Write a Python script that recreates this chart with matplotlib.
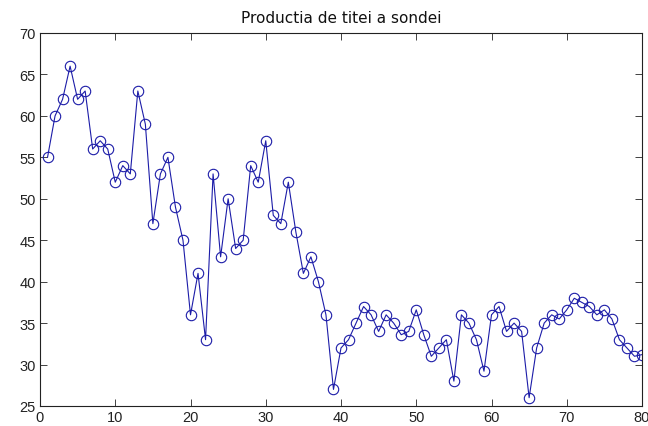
import matplotlib
matplotlib.use("Agg")
import matplotlib.pyplot as plt

# Daily oil production readings for the well
days = list(range(1, 81))
production = [
    55, 60, 62, 66, 62, 63, 56, 57, 56, 52,
    54, 53, 63, 59, 47, 53, 55, 49, 45, 36,
    41, 33, 53, 43, 50, 44, 45, 54, 52, 57,
    48, 47, 52, 46, 41, 43, 40, 36, 27, 32,
    33, 35, 37, 36, 34, 36, 35, 33.6, 34, 36.6,
    33.6, 31, 32, 33, 28, 36, 35, 33, 29.2, 36,
    37, 34, 35, 34, 26, 32, 35, 36, 35.5, 36.6,
    38, 37.5, 37, 36, 36.6, 35.5, 33, 32, 31, 31.2,
]
x_ticks = [0, 10, 20, 30, 40, 50, 60, 70, 80]
y_ticks = [25, 30, 35, 40, 45, 50, 55, 60, 65, 70]
title = "Productia de titei a sondei"

plt.rcParams["font.family"] = ["Liberation Sans", "DejaVu Sans"]

fig = plt.figure(figsize=(6.48, 4.27), dpi=100)
ax = fig.add_axes([40 / 648, 1 - 407 / 427, 602 / 648, 373 / 427])

ax.plot(days, production, color="#1c1ca8", linewidth=0.8,
        marker="o", markersize=7.5, markerfacecolor="none",
        markeredgecolor="#1c1ca8", markeredgewidth=0.8)

ax.set_xlim(0, 80)
ax.set_ylim(25, 70)
ax.set_xticks(x_ticks)
ax.set_yticks(y_ticks)
ax.tick_params(direction="in", length=5, width=0.6, labelsize=10.5,
               top=True, right=True, pad=3, colors="#222222")
for s in ax.spines.values():
    s.set_linewidth(0.8)
    s.set_color("#222222")

ax.set_title(title, fontsize=11, pad=8, color="#111111",
             family=["DejaVu Sans"])

fig.savefig("out.png", dpi=100)
